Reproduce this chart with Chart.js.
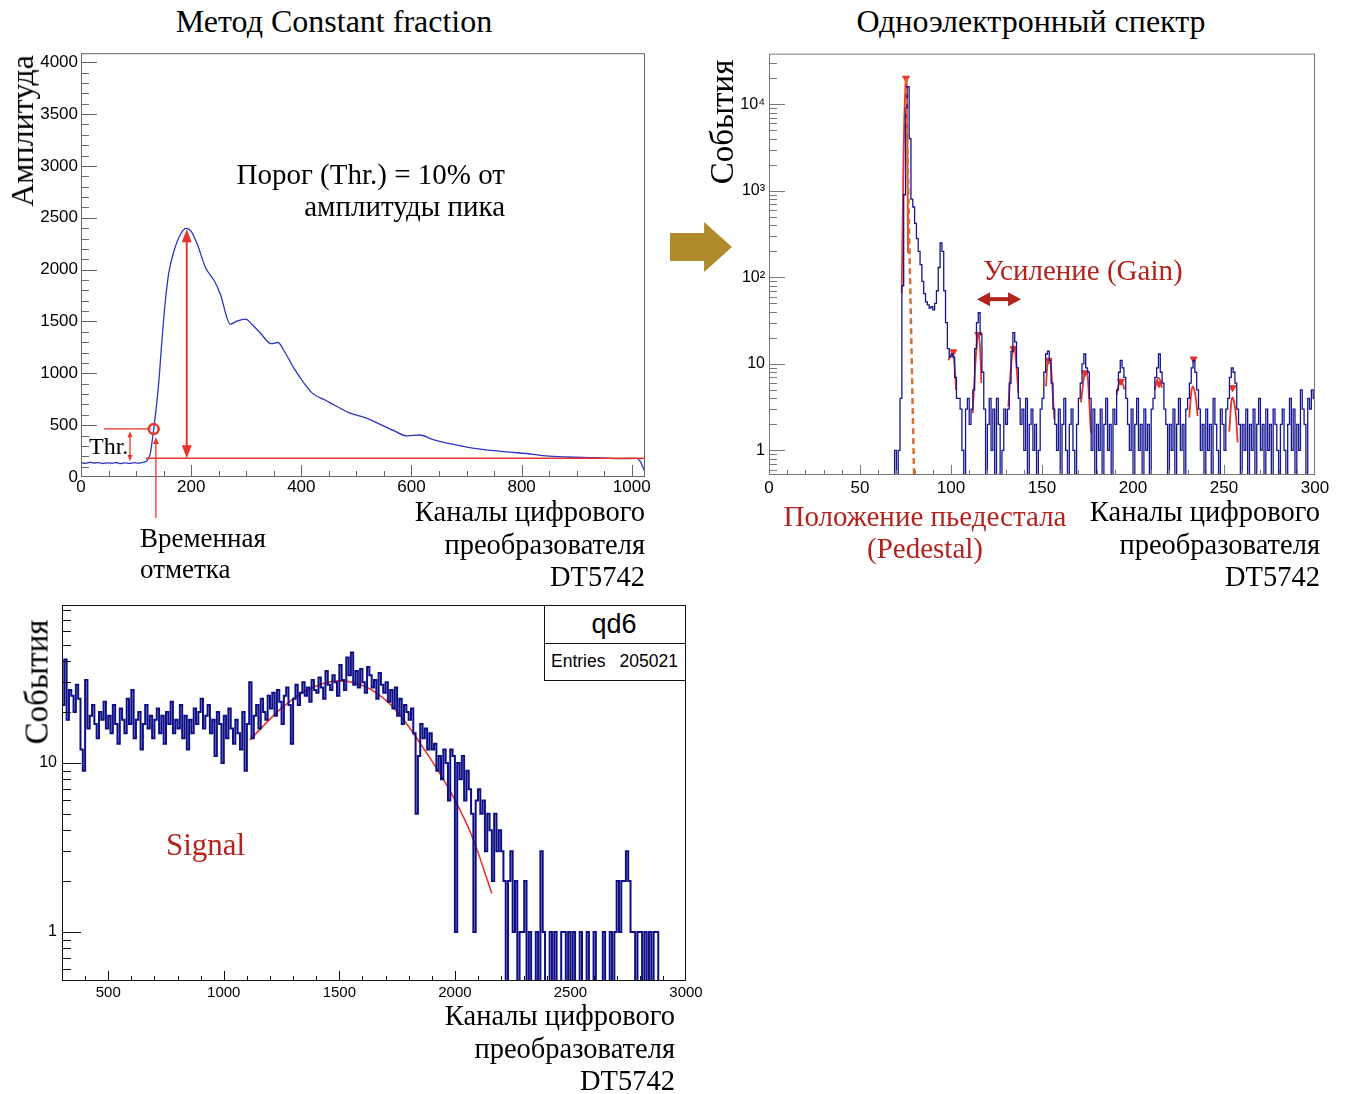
<!DOCTYPE html>
<html lang="ru">
<head>
<meta charset="utf-8">
<title>Constant fraction и одноэлектронный спектр</title>
<script src="https://cdn.jsdelivr.net/npm/chart.js@4.4.1/dist/chart.umd.min.js"></script>
<style>
  body { margin: 0; background: #fff; width: 1345px; height: 1094px; position: relative; overflow: hidden; }
  canvas { position: absolute; }
  .t { position: absolute; white-space: nowrap; line-height: 1; color: #000;
       font-family: 'Liberation Serif', 'Times New Roman', serif; }
  .c { transform: translate(-50%, -50%); }
  .l { transform: translateY(-50%); }
  .r { transform: translateY(-50%); text-align: right; }
  .v { transform: translate(-50%, -50%) rotate(-90deg); }
  .red { color: #b3231d; }
  .stats { position: absolute; background: #fff; border: 1px solid #111; box-sizing: border-box; }
  .sans { font-family: 'Liberation Sans', Arial, sans-serif; }
  .bigArrow { position: absolute; left: 670px; top: 222px; width: 62px; height: 50px; background: #b08a2b;
              clip-path: polygon(0 22%, 55% 22%, 55% 0, 100% 50%, 55% 100%, 55% 78%, 0 78%); }
</style>
</head>
<body>

<canvas id="cfChart" width="670" height="500" style="left:0;top:40px"></canvas>
<canvas id="speChart" width="640" height="460" style="left:700px;top:40px"></canvas>
<canvas id="qdChart" width="710" height="420" style="left:0;top:590px"></canvas>

<div class="bigArrow"></div>

<!-- подписи: Constant fraction -->
<div class="t c" style="left:334px;top:21px;font-size:32px">Метод Constant fraction</div>
<div class="t v" style="left:22px;top:131px;font-size:32px">Амплитуда</div>
<div class="t r" style="right:840px;top:174px;font-size:29px">Порог (Thr.) = 10% от</div>
<div class="t r" style="right:840px;top:206px;font-size:29px">амплитуды пика</div>
<div class="t l" style="left:89px;top:446px;font-size:24px">Thr.</div>
<div class="t l" style="left:140px;top:538px;font-size:27px">Временная</div>
<div class="t l" style="left:140px;top:569px;font-size:27px">отметка</div>
<div class="t r" style="right:700px;top:512px;font-size:28.5px">Каналы цифрового</div>
<div class="t r" style="right:700px;top:545px;font-size:28.5px">преобразователя</div>
<div class="t r" style="right:700px;top:577px;font-size:28.5px">DT5742</div>

<!-- подписи: одноэлектронный спектр -->
<div class="t c" style="left:1031px;top:21px;font-size:32px">Одноэлектронный спектр</div>
<div class="t v" style="left:722px;top:122px;font-size:33px">События</div>
<div class="t l red" style="left:983px;top:270px;font-size:29px">Усиление (Gain)</div>
<div class="t c red" style="left:925px;top:516px;font-size:29px">Положение пьедестала</div>
<div class="t c red" style="left:925px;top:548px;font-size:29px">(Pedestal)</div>
<div class="t r" style="right:25px;top:512px;font-size:28.5px">Каналы цифрового</div>
<div class="t r" style="right:25px;top:545px;font-size:28.5px">преобразователя</div>
<div class="t r" style="right:25px;top:577px;font-size:28.5px">DT5742</div>

<!-- подписи: qd6 -->
<div class="t v" style="left:37px;top:682px;font-size:33px">События</div>
<div class="t l red" style="left:166px;top:844px;font-size:31px">Signal</div>
<div class="t r" style="right:670px;top:1016px;font-size:28.5px">Каналы цифрового</div>
<div class="t r" style="right:670px;top:1049px;font-size:28.5px">преобразователя</div>
<div class="t r" style="right:670px;top:1081px;font-size:28.5px">DT5742</div>
<div class="stats" style="left:544px;top:605px;width:142px;height:39px"></div>
<div class="stats" style="left:544px;top:643px;width:142px;height:38px"></div>
<div class="t c sans" style="left:614px;top:624px;font-size:27px">qd6</div>
<div class="t l sans" style="left:551px;top:662px;font-size:17.5px">Entries</div>
<div class="t r sans" style="right:667px;top:662px;font-size:17.5px">205021</div>

<script>
'use strict';

// ---------- Данные: сигнал (метод Constant fraction) ----------
const cfChannel = [0, 8, 16, 24, 32, 40, 48, 56, 64, 72, 80, 88, 96, 104, 112, 118,
  122, 126, 129, 132, 136, 141, 146, 152, 159, 169, 181, 191, 200, 211, 226, 242, 253,
  271, 284, 299, 310, 325, 345, 358, 367, 386, 402, 421, 444, 463, 486, 516, 543, 569,
  592, 615, 638, 676, 714, 768, 821, 844, 882, 935, 981, 1008, 1015, 1023];
const cfAmplitude = [140, 132, 141, 135, 138, 130, 136, 133, 140, 129, 137, 131, 138, 134, 142, 150,
  175, 230, 340, 460, 640, 900, 1250, 1635, 1957, 2182, 2343, 2397, 2368, 2246, 2021, 1892, 1763,
  1474, 1506, 1522, 1474, 1393, 1287, 1297, 1232, 1055, 927, 804, 740, 685, 621, 573, 508, 444,
  396, 405, 364, 315, 277, 245, 219, 203, 193, 187, 177, 180, 154, 60];
const cfXTicks = [0, 200, 400, 600, 800, 1000];
const cfYTicks = [0, 500, 1000, 1500, 2000, 2500, 3000, 3500, 4000];

// ---------- Данные: одноэлектронный спектр (бин = 1 канал, с канала 66) ----------
const speFirstChannel = 66;
const speCounts = [
  0, 0, 0, 1, 0, 1, 4, 80, 900, 9000,
  16000, 4000, 800, 650, 420, 280, 200, 140, 90, 65,
  52, 48, 44, 46, 42, 50, 70, 130, 250, 200,
  70, 30, 15, 12, 13, 12, 7, 4, 4, 3,
  1, 0, 3, 4, 2, 3,
  5, 15, 30, 39, 22, 8, 3,
  0, 2, 4, 1, 3, 0, 4, 2, 0, 1, 3, 2,
  3, 6, 14, 23, 18, 9, 4, 2,
  3, 1, 4, 0, 2, 3, 1, 2, 0, 1, 3,
  4, 8, 13, 14, 11, 6, 3, 2,
  1, 3, 0, 2, 4, 1, 0, 2, 3, 1, 0, 2, 4,
  6, 10, 13, 9, 8, 4, 1,
  3, 0, 2, 1, 3, 0, 2, 4, 1, 2, 0, 3, 2,
  5, 8, 11, 9, 7, 4, 2,
  1, 3, 0, 2, 4, 1, 2, 0, 3, 1, 2, 0, 3,
  4, 7, 9, 13, 8, 6, 3, 2,
  0, 2, 1, 3, 0, 2, 4, 1, 2, 0, 3,
  4, 6, 9, 11, 8, 5, 3, 1,
  2, 0, 3, 1, 2, 0, 4, 2, 1, 0, 3, 2, 1, 3,
  4, 7, 9, 8, 6, 3, 2,
  0, 2, 1, 3, 0, 2, 1, 3, 0, 2, 4, 1, 2, 0, 3, 1, 2, 0, 3, 2,
  1, 0, 2, 3, 1, 0, 2, 4, 1, 3, 0, 2, 1, 5, 3, 2, 0, 4, 3, 5, 4
];
// фиты пиков (канал, события)
const pedestalFit = [[72.9, 66], [73.4, 400], [73.9, 2500], [74.5, 9000], [75.0, 17000],
  [75.3, 20000], [75.7, 11000], [76.0, 3500], [76.4, 190]];
const gainFits = [
  [[98.5, 11], [100, 12.5], [101.3, 12.8], [102.2, 8], [102.8, 5]],
  [[111.9, 2.7], [113.3, 9.4], [114.3, 18], [115, 22.9], [116, 14.6], [116.7, 6]],
  [[131.5, 3.2], [133, 9.4], [134.4, 16], [135.7, 11.2], [137, 4.6]],
  [[152.2, 5.5], [153.1, 10.7], [153.9, 11.5], [154.6, 10.7], [156.8, 2.3]],
  [[171.4, 3.6], [173.3, 7.5], [174, 8], [174.7, 7.9], [176.9, 1.6]],
  [[191, 4.4], [192.4, 6], [193.4, 6.3], [194.4, 5.9], [195.3, 5.05]],
  [[212, 5], [213.2, 6.5], [214, 6.9], [215, 6.4], [215.9, 5.3]],
  [[230.9, 2.4], [232, 4.6], [232.8, 5.5], [233.8, 4.9], [234.6, 3.9], [235.5, 2.5]],
  [[252.9, 1.65], [254, 3.6], [254.7, 4.1], [255.6, 3.6], [256.6, 2.5], [257.5, 1.24]]
];
const peakMarks = [[75.3, 20000], [101.3, 13.8], [115, 21.8], [134.4, 15], [153.6, 11],
  [173.6, 7.9], [193.4, 6.3], [214.3, 5.9], [233.3, 11.4], [254.7, 5.3]];
const speXTicks = [0, 50, 100, 150, 200, 250, 300];
const speYTicks = [1, 10, 100, 1000, 10000];
const speYLabels = ['1', '10', '10²', '10³', '10⁴'];

// ---------- Данные: qd6 (бин = 10 каналов, с 300) ----------
const qdFirstChannel = 300;
const qdBinWidth = 10;
const qdCounts = [
  22, 41, 18, 27, 25, 20, 29, 24, 12, 9,
  31, 16, 19, 22, 17, 14, 20, 18, 23, 16,
  19, 15, 22, 17, 13, 21, 18, 15, 24, 17,
  27, 14, 18, 20, 12, 17, 22, 16, 19, 14,
  18, 21, 15, 19, 13, 20, 17, 23, 15, 18,
  16, 22, 14, 19, 12, 18, 15, 21, 17, 20,
  24, 16, 19, 22, 15, 18, 11, 20, 17, 10,
  19, 14, 21, 16, 13, 18, 15, 12, 20, 9,
  17, 30, 14, 19, 22, 16, 24, 20, 18, 25,
  21, 26, 19, 27, 23, 17, 25, 28, 22, 13,
  24, 29, 22, 26, 30, 25, 28, 23, 31, 27,
  26, 32, 28, 24, 35, 29, 27, 33, 30, 25,
  38, 31, 27, 42, 33, 45, 29, 35, 28, 36,
  30, 26, 37, 33, 28, 31, 24, 34, 29, 26,
  30, 23, 27, 21, 28, 19, 24, 17, 22, 20,
  18, 21, 15, 5, 11, 17, 14, 16, 12, 15,
  12, 13, 9, 11, 8, 12, 10, 6, 12, 11,
  1, 10, 8, 11, 6, 9, 7, 5, 1, 6,
  7, 5, 6, 3, 5, 4, 2, 5, 3, 4,
  3, 2, 0, 2, 3, 1, 2, 0, 1, 1,
  2, 0, 1, 0, 0, 1, 0, 3, 1, 0,
  0, 1, 0, 1, 0, 0, 1, 1, 0, 1,
  0, 1, 0, 0, 1, 0, 0, 1, 0, 0,
  1, 0, 0, 0, 1, 0, 0, 1, 0, 1,
  2, 1, 2, 2, 3, 2, 1, 1, 0, 1,
  1, 0, 1, 0, 1, 0, 1, 1, 0, 0,
  0, 0, 0, 0, 0, 0, 0, 0, 0, 0
];
const signalFit = [[1113, 13.7], [1245, 20.8], [1340, 26], [1434, 29.6], [1500, 30.6], [1566, 29.8],
  [1660, 26], [1755, 19.8], [1849, 13.1], [1925, 9.1], [2000, 6.05], [2075, 3.66], [2160, 1.69]];
const qdXTicks = [500, 1000, 1500, 2000, 2500, 3000];
const qdYTicks = [1, 10];

// ---------- Цвета ----------
const BLUE_LINE = '#2a35c2';
const BLUE_HIST = '#16168f';
const NAVY = '#0e0e86';
const RED = '#e8342a';
const DARK_RED = '#b3231d';
const ORANGE = '#cf7436';

Chart.defaults.font.family = "'Liberation Sans', Arial, sans-serif";
Chart.defaults.color = '#000';

// ---------- Вспомогательные функции ----------
const steps = (from, to, step) => {
  const out = [];
  for (let v = from; v <= to + 1e-9; v += step) out.push(+v.toFixed(6));
  return out;
};
// минорные деления логарифмической шкалы: 2..9 в каждой декаде
const logMinor = (lo, hi) => {
  const out = [];
  for (let d = Math.floor(Math.log10(lo)); d <= Math.ceil(Math.log10(hi)); d++) {
    for (let k = 2; k <= 9; k++) {
      const v = k * Math.pow(10, d);
      if (v >= lo && v <= hi) out.push(v);
    }
  }
  return out;
};
// гистограмма как ступенчатая линия; пустые бины уходят под ось
const histPoints = (start, width, counts, floor) => {
  const pts = counts.map((c, i) => ({ x: start + i * width, y: c > 0 ? c : floor }));
  pts.push({ x: start + counts.length * width, y: pts[pts.length - 1].y });
  return pts;
};
const toXY = arr => arr.map(([x, y]) => ({ x, y }));
const fixedTicks = values => scale => { scale.ticks = values.map(v => ({ value: v })); };

function arrowHead(ctx, x, y, angle, len, half) {
  const c = Math.cos(angle), s = Math.sin(angle);
  ctx.beginPath();
  ctx.moveTo(x, y);
  ctx.lineTo(x - len * c + half * s, y - len * s - half * c);
  ctx.lineTo(x - len * c - half * s, y - len * s + half * c);
  ctx.closePath();
  ctx.fill();
}
function segment(ctx, x1, y1, x2, y2) {
  ctx.beginPath();
  ctx.moveTo(x1, y1);
  ctx.lineTo(x2, y2);
  ctx.stroke();
}

// рамка и внутренние засечки в стиле ROOT
const rootFrame = {
  id: 'rootFrame',
  afterDatasetsDraw(chart, args, o) {
    if (!o || !o.xMajor) return;
    const { ctx, chartArea: a, scales: { x, y } } = chart;
    ctx.save();
    ctx.strokeStyle = o.color;
    ctx.lineWidth = 1;
    ctx.beginPath();
    const xt = (vals, len) => vals.forEach(v => {
      const p = Math.round(x.getPixelForValue(v)) + 0.5;
      if (p < a.left || p > a.right) return;
      ctx.moveTo(p, a.bottom); ctx.lineTo(p, a.bottom - len);
    });
    const yt = (vals, len) => vals.forEach(v => {
      const p = Math.round(y.getPixelForValue(v)) + 0.5;
      if (p < a.top || p > a.bottom) return;
      ctx.moveTo(a.left, p); ctx.lineTo(a.left + len, p);
    });
    xt(o.xMinor, o.xMinorLen); xt(o.xMajor, o.xMajorLen);
    yt(o.yMinor, o.yMinorLen); yt(o.yMajor, o.yMajorLen);
    ctx.stroke();
    ctx.strokeRect(a.left + 0.5, a.top + 0.5, a.right - a.left - 1, a.bottom - a.top - 1);
    ctx.restore();
  }
};

const noGrid = { display: false, drawTicks: false };
const baseOptions = (xs, ys, pad) => ({
  responsive: false,
  animation: false,
  events: [],
  layout: { padding: pad, autoPadding: false },
  plugins: { legend: { display: false }, tooltip: { enabled: false } },
  scales: { x: xs, y: ys }
});
const frameOpts = (color, xMajor, xMinor, xMajorLen, xMinorLen, yMajor, yMinor, yMajorLen, yMinorLen) =>
  ({ color, xMajor, xMinor, xMajorLen, xMinorLen, yMajor, yMinor, yMajorLen, yMinorLen });
const plain = v => String(v);

// ---------- Constant fraction ----------
const cfMarks = {
  id: 'cfMarks',
  afterDatasetsDraw(chart) {
    const { ctx, scales: { x, y } } = chart;
    const px = v => x.getPixelForValue(v), py = v => y.getPixelForValue(v);
    ctx.save();
    ctx.strokeStyle = RED;
    ctx.fillStyle = RED;
    // уровень пьедестала
    ctx.lineWidth = 1.5;
    segment(ctx, px(118), py(180), px(1024), py(180));
    // амплитуда пика
    ctx.lineWidth = 2;
    segment(ctx, px(192), py(180) - 10, px(192), py(2390) + 10);
    arrowHead(ctx, px(192), py(180), Math.PI / 2, 13, 5);
    arrowHead(ctx, px(192), py(2390), -Math.PI / 2, 13, 5);
    // порог
    ctx.lineWidth = 1.3;
    segment(ctx, px(42), py(465), px(126), py(465));
    segment(ctx, px(89), py(155) - 5, px(89), py(440) + 5);
    arrowHead(ctx, px(89), py(155), Math.PI / 2, 6, 2.5);
    arrowHead(ctx, px(89), py(440), -Math.PI / 2, 6, 2.5);
    // временная отметка
    segment(ctx, px(136), py(-395), px(136), py(385) + 6);
    arrowHead(ctx, px(136), py(385), -Math.PI / 2, 7, 3);
    ctx.lineWidth = 2.5;
    ctx.beginPath();
    ctx.arc(px(132), py(462), 5, 0, Math.PI * 2);
    ctx.stroke();
    ctx.restore();
  }
};

const cfOptions = baseOptions(
  { type: 'linear', min: 0, max: 1024, afterBuildTicks: fixedTicks(cfXTicks),
    afterFit: s => { s.height = 30; },
    grid: noGrid, border: { display: false },
    ticks: { font: { size: 17 }, padding: 0, maxRotation: 0, autoSkip: false, callback: plain } },
  { type: 'linear', min: 0, max: 4087, afterBuildTicks: fixedTicks(cfYTicks),
    afterFit: s => { s.width = 60; },
    grid: noGrid, border: { display: false },
    ticks: { font: { size: 17 }, padding: 3, autoSkip: false, callback: plain } },
  { left: 21, right: 25, top: 12, bottom: 33 }
);
cfOptions.plugins.rootFrame = frameOpts('#666', cfXTicks, steps(0, 1024, 50), 12, 6,
  cfYTicks, steps(0, 4087, 100), 16, 8);

new Chart(document.getElementById('cfChart'), {
  type: 'line',
  data: {
    datasets: [{
      data: cfChannel.map((c, i) => ({ x: c, y: cfAmplitude[i] })),
      borderColor: BLUE_LINE, borderWidth: 1.3, pointRadius: 0,
      cubicInterpolationMode: 'monotone'
    }]
  },
  options: cfOptions,
  plugins: [rootFrame, cfMarks]
});

// ---------- Одноэлектронный спектр ----------
const speMarks = {
  id: 'speMarks',
  afterDatasetsDraw(chart) {
    const { ctx, scales: { x, y } } = chart;
    const px = v => x.getPixelForValue(v), py = v => y.getPixelForValue(v);
    ctx.save();
    // положение пьедестала
    ctx.strokeStyle = ORANGE;
    ctx.lineWidth = 2.5;
    ctx.setLineDash([6, 4]);
    segment(ctx, px(75.3), py(20000), px(79.7), py(0.52));
    ctx.setLineDash([]);
    // усиление
    ctx.strokeStyle = DARK_RED;
    ctx.fillStyle = DARK_RED;
    ctx.lineWidth = 4;
    const gy = py(56);
    segment(ctx, px(114.3) + 8, gy, px(138.5) - 8, gy);
    arrowHead(ctx, px(114.3), gy, Math.PI, 13, 7);
    arrowHead(ctx, px(138.5), gy, 0, 13, 7);
    ctx.restore();
  }
};

const speDatasets = [
  { data: histPoints(speFirstChannel, 1, speCounts, 0.2), stepped: 'before',
    borderColor: BLUE_HIST, borderWidth: 1.3, pointRadius: 0 },
  { data: toXY(pedestalFit), borderColor: RED, borderWidth: 1.8, pointRadius: 0 }
].concat(gainFits.map(f => ({
  data: toXY(f), borderColor: RED, borderWidth: 1.8, pointRadius: 0, cubicInterpolationMode: 'monotone'
}))).concat([{
  data: toXY(peakMarks), showLine: false, pointStyle: 'triangle', rotation: 180,
  pointRadius: 4, backgroundColor: RED, borderColor: RED, borderWidth: 1
}]);

const speOptions = baseOptions(
  { type: 'linear', min: 0, max: 300, afterBuildTicks: fixedTicks(speXTicks),
    afterFit: s => { s.height = 25; },
    grid: noGrid, border: { display: false },
    ticks: { font: { size: 17 }, padding: 3, maxRotation: 0, autoSkip: false, callback: plain } },
  { type: 'logarithmic', min: 0.52, max: 38500, afterBuildTicks: fixedTicks(speYTicks),
    afterFit: s => { s.width = 60; },
    grid: noGrid, border: { display: false },
    ticks: { font: { size: 16 }, padding: 4, autoSkip: false, callback: (v, i) => speYLabels[i] } },
  { left: 9, right: 25, top: 12, bottom: 0 }
);
speOptions.plugins.rootFrame = frameOpts('#777', speXTicks, steps(0, 300, 10), 10, 5,
  speYTicks, logMinor(0.52, 38500), 16, 8);

new Chart(document.getElementById('speChart'), {
  type: 'line',
  data: { datasets: speDatasets },
  options: speOptions,
  plugins: [rootFrame, speMarks]
});

// ---------- qd6 ----------
const qdOptions = baseOptions(
  { type: 'linear', min: 300, max: 3000, afterBuildTicks: fixedTicks(qdXTicks),
    afterFit: s => { s.height = 25; },
    grid: noGrid, border: { display: false },
    ticks: { font: { size: 15 }, padding: 3, maxRotation: 0, autoSkip: false, callback: plain } },
  { type: 'logarithmic', min: 0.513, max: 86, afterBuildTicks: fixedTicks(qdYTicks),
    afterFit: s => { s.width = 50; },
    grid: noGrid, border: { display: false },
    ticks: { font: { size: 16 }, padding: 5, autoSkip: false, callback: plain } },
  { left: 12, right: 24, top: 15, bottom: 4 }
);
qdOptions.plugins.rootFrame = frameOpts('#111', qdXTicks, steps(300, 3000, 100), 10, 5,
  qdYTicks, logMinor(0.513, 86), 19, 9);

new Chart(document.getElementById('qdChart'), {
  type: 'line',
  data: {
    datasets: [
      { data: histPoints(qdFirstChannel, qdBinWidth, qdCounts, 0.2), stepped: 'before',
        borderColor: NAVY, borderWidth: 2, pointRadius: 0 },
      { data: toXY(signalFit), borderColor: RED, borderWidth: 1.6, pointRadius: 0,
        cubicInterpolationMode: 'monotone' }
    ]
  },
  options: qdOptions,
  plugins: [rootFrame]
});
</script>
</body>
</html>
